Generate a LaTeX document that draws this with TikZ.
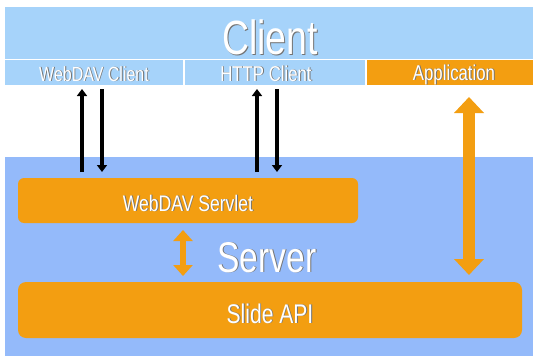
\documentclass[tikz,border=0pt]{standalone}
\usepackage{fontspec}
\setmainfont{Liberation Sans}[FakeStretch=0.78]
\usetikzlibrary{arrows.meta}
\definecolor{clientblue}{RGB}{166,211,250}
\definecolor{serverblue}{RGB}{148,186,250}
\definecolor{orng}{RGB}{243,158,17}
\newcommand\shadowtxt[1]{\makebox[0pt][l]{\hspace{0.9pt}\raisebox{-0.9pt}{\color{black!55}#1}}#1}
\begin{document}
\begin{tikzpicture}[x=1pt,y=-1pt,
  area/.style={inner sep=0pt, outer sep=0pt, anchor=north west},
  lbl/.style={inner sep=0pt, text=white},
  boxo/.style={area, fill=orng, rounded corners=7pt},
  blackarrow/.style={line width=3.6pt, -{Triangle[width=10pt,length=7pt]}},
  bigarrow/.style={line width=12pt, orng, {Triangle[width=29pt,length=16pt]}-{Triangle[width=29pt,length=16pt]}},
  smallarrow/.style={line width=6pt, orng, {Triangle[width=19pt,length=11pt]}-{Triangle[width=19pt,length=11pt]}}]
\useasboundingbox (0,0) rectangle (533,356);
\fill[white] (0,0) rectangle (533,356);
% client band
\node[area, fill=clientblue, minimum width=528pt, minimum height=51.5pt] (client) at (5,7) {};
\node[area, fill=clientblue, minimum width=178pt, minimum height=25pt] (wc) at (5,60) {};
\node[area, fill=clientblue, minimum width=180pt, minimum height=25pt] (hc) at (185,60) {};
\node[area, fill=orng, minimum width=166pt, minimum height=25pt] (app) at (367,60) {};
% server area
\node[area, fill=serverblue, minimum width=528pt, minimum height=199pt] (server) at (5,157) {};
\node[boxo, minimum width=340pt, minimum height=45pt, rounded corners=6pt] (ws) at (18,178) {};
\node[boxo, minimum width=504pt, minimum height=56pt, rounded corners=8pt] (slide) at (18,282) {};
% labels
\node[lbl, font=\fontsize{48}{48}\selectfont] (tclient) at (270,38) {\shadowtxt{Client}};
\node[lbl, font=\fontsize{20.5}{21}\selectfont, anchor=base] (twc) at (94,81) {\shadowtxt{WebDAV Client}};
\node[lbl, font=\fontsize{21.5}{22}\selectfont, anchor=base] (thc) at (266,81) {\shadowtxt{HTTP Client}};
\node[lbl, font=\fontsize{21.5}{22}\selectfont, anchor=base] (tapp) at (454,80) {\shadowtxt{Application}};
\node[lbl, font=\fontsize{22.5}{23}\selectfont, anchor=base] (tws) at (188,211) {\shadowtxt{WebDAV Servlet}};
\node[lbl, font=\fontsize{43}{43}\selectfont, anchor=base] (tserver) at (267,272) {\shadowtxt{Server}};
\node[lbl, font=\fontsize{27}{27}\selectfont, anchor=base] (tslide) at (270,323) {\shadowtxt{Slide API}};
% x positions of connectors
\coordinate (xa) at (82,0);
\coordinate (xb) at (102,0);
\coordinate (xc) at (257,0);
\coordinate (xd) at (277,0);
\coordinate (xe) at (469,0);
\coordinate (xf) at (183,0);
% black arrows
\draw[blackarrow, shorten <=6pt, shorten >=4pt] (ws.north -| xa) -- (wc.south -| xa);
\draw[blackarrow, shorten <=4pt, shorten >=6pt] (wc.south -| xb) -- (ws.north -| xb);
\draw[blackarrow, shorten <=6pt, shorten >=4pt] (ws.north -| xc) -- (hc.south -| xc);
\draw[blackarrow, shorten <=4pt, shorten >=6pt] (hc.south -| xd) -- (ws.north -| xd);
% orange arrows
\draw[bigarrow, shorten <=12pt, shorten >=7pt] (app.south -| xe) -- (slide.north -| xe);
\draw[smallarrow, shorten <=7pt, shorten >=6pt] (ws.south -| xf) -- (slide.north -| xf);
\end{tikzpicture}
\end{document}
